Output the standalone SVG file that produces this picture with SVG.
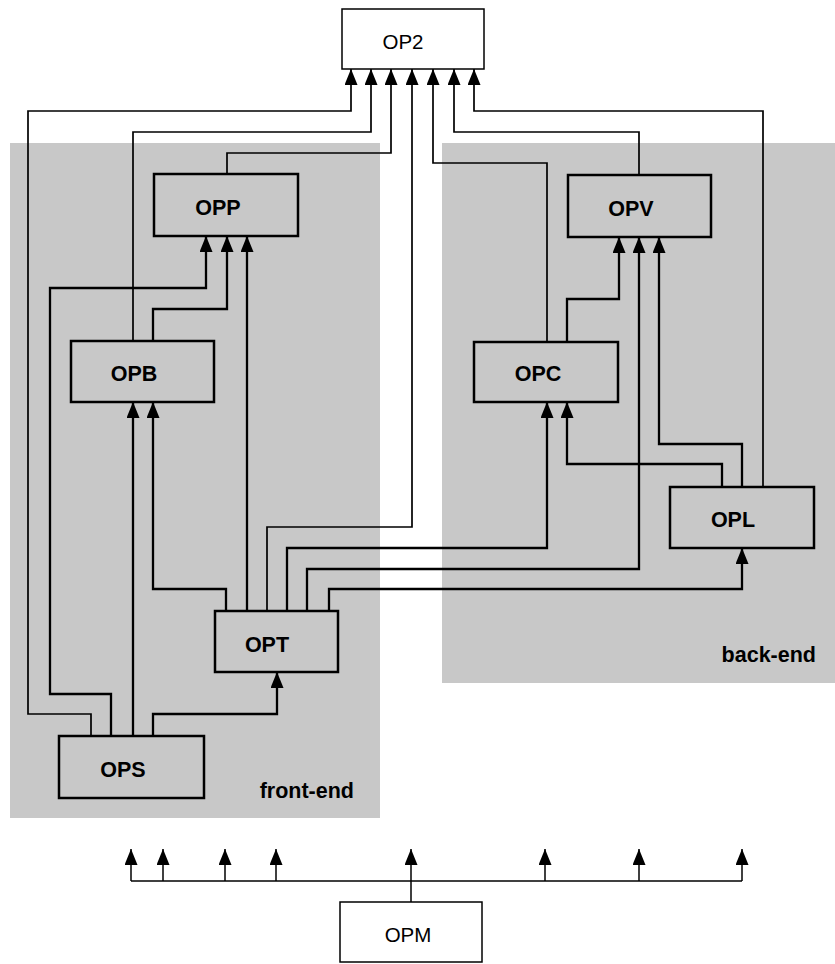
<svg xmlns="http://www.w3.org/2000/svg" width="835" height="964" viewBox="0 0 835 964">
<style>
.region{fill:#c8c8c8;stroke:none}
.box{fill:none;stroke:#000;stroke-width:2.5}
.obox{fill:#fff;stroke:#000;stroke-width:1.5}
.lbl{font-family:"Liberation Sans","DejaVu Sans",sans-serif;font-weight:bold;font-size:21.5px;text-anchor:middle;fill:#000}
.olbl{font-family:"Liberation Sans","DejaVu Sans",sans-serif;font-size:20.5px;text-anchor:middle;fill:#000}
.area{font-family:"Liberation Sans","DejaVu Sans",sans-serif;font-weight:bold;font-size:21.5px;text-anchor:end;fill:#000}
.c{fill:none;stroke:#000;stroke-width:2.3;stroke-linejoin:miter;stroke-linecap:butt}
.t{fill:none;stroke:#000;stroke-width:1.7;stroke-linejoin:miter;stroke-linecap:butt}
.b{fill:none;stroke:#000;stroke-width:1.5;stroke-linecap:butt}
</style>
<defs>
<marker id="ah" markerUnits="userSpaceOnUse" markerWidth="17" markerHeight="14" refX="16" refY="6.5" orient="auto">
<path d="M0,0 L16,6.5 L0,13 z" fill="#000"/>
</marker>
</defs>
<rect width="835" height="964" fill="#fff"/>
<g id="regions">
<rect class="region" x="10" y="143" width="370" height="675"/>
<rect class="region" x="442" y="143" width="393" height="540"/>
<text class="area" x="354" y="798">front-end</text>
<text class="area" x="816" y="662">back-end</text>
</g>
<g id="connectors">
<polyline class="t" points="91,736 91,714 28,714 28,111 351,111 351,69" marker-end="url(#ah)"/>
<polyline class="t" points="133,341 133,132 371,132 371,69" marker-end="url(#ah)"/>
<polyline class="t" points="227,174 227,153 391,153 391,69" marker-end="url(#ah)"/>
<polyline class="t" points="267,611 267,527 412,527 412,69" marker-end="url(#ah)"/>
<polyline class="t" points="547,342 547,163 433,163 433,69" marker-end="url(#ah)"/>
<polyline class="t" points="639,175 639,132 454,132 454,69" marker-end="url(#ah)"/>
<polyline class="t" points="763,487 763,111 474,111 474,69" marker-end="url(#ah)"/>
<polyline class="c" points="111,736 111,694 50,694 50,288 206,288 206,236" marker-end="url(#ah)"/>
<polyline class="c" points="153,341 153,309 227,309 227,236" marker-end="url(#ah)"/>
<polyline class="c" points="247,611 247,236" marker-end="url(#ah)"/>
<polyline class="c" points="133,736 133,402" marker-end="url(#ah)"/>
<polyline class="c" points="226,611 226,589 153,589 153,402" marker-end="url(#ah)"/>
<polyline class="c" points="153,736 153,714 277,714 277,672" marker-end="url(#ah)"/>
<polyline class="c" points="287,611 287,548 547,548 547,402" marker-end="url(#ah)"/>
<polyline class="c" points="722,487 722,464 567,464 567,402" marker-end="url(#ah)"/>
<polyline class="c" points="567,342 567,299 619,299 619,237" marker-end="url(#ah)"/>
<polyline class="c" points="307,611 307,569 639,569 639,237" marker-end="url(#ah)"/>
<polyline class="c" points="742,487 742,444 659,444 659,237" marker-end="url(#ah)"/>
<polyline class="c" points="329,611 329,589 742,589 742,548" marker-end="url(#ah)"/>
<polyline class="b" points="131,881 742,881"/>
<polyline class="b" points="411,902 411,881"/>
<polyline class="b" points="131,881 131,849" marker-end="url(#ah)"/>
<polyline class="b" points="163,881 163,849" marker-end="url(#ah)"/>
<polyline class="b" points="225,881 225,849" marker-end="url(#ah)"/>
<polyline class="b" points="276,881 276,849" marker-end="url(#ah)"/>
<polyline class="b" points="411,881 411,849" marker-end="url(#ah)"/>
<polyline class="b" points="545,881 545,849" marker-end="url(#ah)"/>
<polyline class="b" points="639,881 639,849" marker-end="url(#ah)"/>
<polyline class="b" points="742,881 742,849" marker-end="url(#ah)"/>
</g>
<g id="OP2"><rect class="obox" x="342" y="9" width="142" height="60"/><text class="olbl" x="403" y="49">OP2</text></g>
<g id="OPP"><rect class="box" x="154" y="174" width="144" height="62"/><text class="lbl" x="218" y="215">OPP</text></g>
<g id="OPV"><rect class="box" x="568" y="175" width="143" height="62"/><text class="lbl" x="631" y="216">OPV</text></g>
<g id="OPB"><rect class="box" x="71" y="341" width="143" height="61"/><text class="lbl" x="134" y="381">OPB</text></g>
<g id="OPC"><rect class="box" x="474" y="342" width="144" height="60"/><text class="lbl" x="538" y="381">OPC</text></g>
<g id="OPL"><rect class="box" x="670" y="487" width="144" height="61"/><text class="lbl" x="733" y="527">OPL</text></g>
<g id="OPT"><rect class="box" x="215" y="611" width="123" height="61"/><text class="lbl" x="267" y="652">OPT</text></g>
<g id="OPS"><rect class="box" x="59" y="736" width="145" height="62"/><text class="lbl" x="123" y="777">OPS</text></g>
<g id="OPM"><rect class="obox" x="340" y="902" width="142" height="60"/><text class="olbl" x="408" y="942">OPM</text></g>
</svg>
